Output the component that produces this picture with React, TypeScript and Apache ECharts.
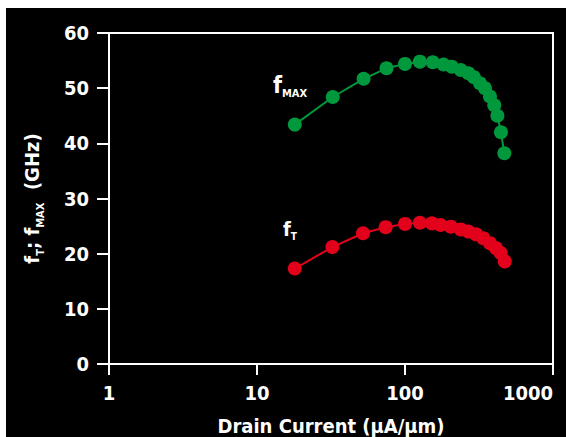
import React, { useEffect, useRef } from "react";
import * as echarts from "echarts";

const fmaxCurrent = [18, 32.5, 52.5, 75, 100, 126, 154, 182, 207, 238, 268, 292, 321, 347, 375, 401, 421, 445, 469];
const fmaxValues = [43.4, 48.4, 51.7, 53.6, 54.4, 54.8, 54.7, 54.3, 53.9, 53.3, 52.7, 52.0, 50.9, 50.0, 48.5, 46.9, 45.0, 42.0, 38.2];

const ftCurrent = [18, 32.3, 52, 74, 100, 126, 152, 174, 204, 238, 268, 302, 338, 375, 412, 443, 472];
const ftValues = [17.3, 21.2, 23.7, 24.8, 25.4, 25.6, 25.5, 25.2, 24.9, 24.4, 24.0, 23.5, 22.8, 21.9, 21.0, 20.1, 18.6];

const yTicks = { min: 0, max: 60, interval: 10 };
const xRange = { min: 1, max: 1000 };

const FONT = "'DejaVu Sans Condensed', 'DejaVu Sans', sans-serif";
const GREEN = "#00983c";
const RED = "#e2001a";

export default function App() {
  const ref = useRef<HTMLDivElement>(null);
  useEffect(() => {
    if (!ref.current) return;
    const chart = echarts.init(ref.current, undefined, { renderer: "svg" });
    const toPairs = (xs: number[], ys: number[]) => xs.map((x, i) => [x, ys[i]]);
    chart.setOption({
      animation: false,
      backgroundColor: "transparent",
      grid: {
        left: 109,
        top: 33,
        right: 13,
        bottom: 73,
        show: true,
        borderColor: "#ffffff",
        borderWidth: 2,
        containLabel: false,
        outerBoundsMode: "none",
      },
      xAxis: {
        type: "log",
        logBase: 10,
        min: xRange.min,
        max: xRange.max,
        name: "Drain Current (µA/µm)",
        nameLocation: "middle",
        nameGap: 52,
        nameTextStyle: { color: "#ffffff", fontFamily: FONT, fontWeight: "bold", fontSize: 20 },
        axisLine: { show: true, lineStyle: { color: "#ffffff", width: 2 } },
        axisTick: { show: true, length: 11, inside: false, lineStyle: { color: "#ffffff", width: 2 } },
        minorTick: { show: false },
        splitLine: { show: false },
        axisLabel: {
          color: "#ffffff",
          fontFamily: FONT,
          fontWeight: "bold",
          fontSize: 20,
          margin: 19,
          alignMaxLabel: "right",
          formatter: (v: number) => String(Math.round(v)),
        },
      },
      yAxis: {
        type: "value",
        min: yTicks.min,
        max: yTicks.max,
        interval: yTicks.interval,
        name: "{f|f}{s|T}{f|; f}{s|MAX}{f|  (GHz)}",
        nameLocation: "middle",
        nameRotate: 90,
        nameGap: 63,
        nameTextStyle: {
          color: "#ffffff",
          rich: {
            f: { color: "#ffffff", fontFamily: FONT, fontWeight: "bold", fontSize: 20, lineHeight: 28, verticalAlign: "middle" },
            s: { color: "#ffffff", fontFamily: FONT, fontWeight: "bold", fontSize: 11, lineHeight: 11, verticalAlign: "bottom" },
          },
        },
        axisLine: { show: true, lineStyle: { color: "#ffffff", width: 2 } },
        axisTick: { show: true, length: 12, inside: false, lineStyle: { color: "#ffffff", width: 2 } },
        splitLine: { show: false },
        axisLabel: {
          color: "#ffffff",
          fontFamily: FONT,
          fontWeight: "bold",
          fontSize: 20,
          margin: 20,
        },
      },
      graphic: [
        {
          type: "text",
          left: 273,
          top: 73,
          style: {
            text: "{f|f}{s|MAX}",
            fill: "#ffffff",
            rich: {
              f: { fill: "#ffffff", fontFamily: FONT, fontWeight: "bold", fontSize: 23, lineHeight: 28, verticalAlign: "middle" },
              s: { fill: "#ffffff", fontFamily: FONT, fontWeight: "bold", fontSize: 11, lineHeight: 11, verticalAlign: "bottom" },
            },
          },
          z: 10,
        },
        {
          type: "text",
          left: 283,
          top: 219,
          style: {
            text: "{f|f}{s|T}",
            fill: "#ffffff",
            rich: {
              f: { fill: "#ffffff", fontFamily: FONT, fontWeight: "bold", fontSize: 20, lineHeight: 24, verticalAlign: "middle" },
              s: { fill: "#ffffff", fontFamily: FONT, fontWeight: "bold", fontSize: 10, lineHeight: 10, verticalAlign: "bottom" },
            },
          },
          z: 10,
        },
      ],
      series: [
        {
          name: "fMAX",
          type: "line",
          data: toPairs(fmaxCurrent, fmaxValues),
          symbol: "circle",
          symbolSize: 14,
          color: GREEN,
          lineStyle: { color: GREEN, width: 2 },
          itemStyle: { color: GREEN },
        },
        {
          name: "fT",
          type: "line",
          data: toPairs(ftCurrent, ftValues),
          symbol: "circle",
          symbolSize: 14,
          color: RED,
          lineStyle: { color: RED, width: 2 },
          itemStyle: { color: RED },
        },
      ],
    });
    return () => chart.dispose();
  }, []);
  return (
    <div style={{ position: "absolute", left: 0, top: 0, width: 566, height: 437, background: "#ffffff" }}>
      <div style={{ position: "absolute", left: 6, top: 8, width: 560, height: 429, background: "#000000" }} />
      <div ref={ref} style={{ position: "absolute", left: 0, top: 0, width: 566, height: 437 }} />
    </div>
  );
}
